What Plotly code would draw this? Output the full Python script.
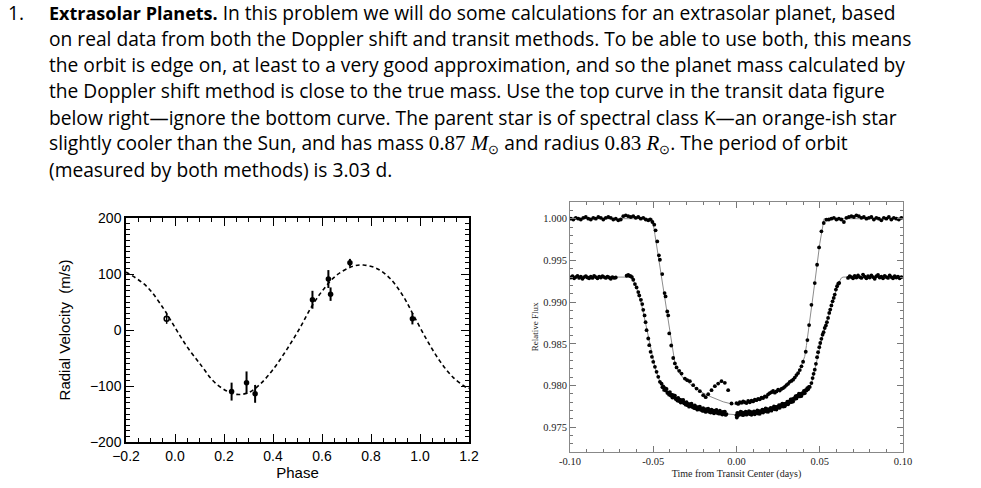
import plotly.graph_objects as go

# ---------------- Radial velocity panel data ----------------
rv_phase = [0.231, 0.292, 0.327, 0.561, 0.626, 0.635, 0.714, 0.969]
rv_vel = [-110, -94, -114, 54, 91, 64, 120, 20]
rv_err = [16, 20, 16, 16, 16, 12, 7, 10]

rv_open_phase = [-0.034]
rv_open_vel = [20]
rv_open_err = [9]

fit_phase = [-0.200, -0.190, -0.116, -0.048, -0.007, 0.048, 0.109, 0.156, 0.211, 0.252,
             0.299, 0.347, 0.401, 0.456, 0.510, 0.558, 0.605, 0.660, 0.728, 0.769,
             0.823, 0.878, 0.932, 0.973, 1.027, 1.082, 1.136, 1.191, 1.200]
fit_vel = [103, 101, 78, 39, 9.5, -29, -64.5, -91, -109, -115,
           -112, -97, -70, -35, 3.6, 42, 72, 98, 114, 116,
           110, 92, 60, 27, -17, -56, -85, -103, -104]

rv_xticks = [-0.2, 0.0, 0.2, 0.4, 0.6, 0.8, 1.0, 1.2]
rv_yticks = [-200, -100, 0, 100, 200]

# ---------------- Transit panel data ----------------
top_t = [
    -0.0995, -0.0980, -0.0965, -0.0950, -0.0935, -0.0920, -0.0905, -0.0890, -0.0875, -0.0860,
    -0.0845, -0.0830, -0.0815, -0.0800, -0.0785, -0.0770, -0.0755, -0.0740, -0.0725, -0.0710,
    -0.0695, -0.0680, -0.0665, -0.0650, -0.0635, -0.0620, -0.0605, -0.0590, -0.0575, -0.0560,
    -0.0545, -0.0530, -0.0518,
    -0.0505, -0.0494, -0.0486, -0.0476, -0.0466, -0.0460, -0.0446, -0.0432, -0.0426, -0.0416,
    -0.0410, -0.0404, -0.0392, -0.0380, -0.0370, -0.0360, -0.0344, -0.0330, -0.0310, -0.0296,
    -0.0280, -0.0260, -0.0240, -0.0220, -0.0200,
    -0.0185, -0.0170, -0.0150, -0.0130, -0.0110, -0.0090, -0.0070, -0.0050,
    -0.0030,
    0.000, 0.001, 0.002, 0.003, 0.004, 0.005, 0.006, 0.007, 0.008, 0.009,
    0.010, 0.011, 0.012, 0.013, 0.014, 0.015, 0.016, 0.017, 0.018, 0.019,
    0.020, 0.021, 0.022, 0.023, 0.024, 0.025, 0.026, 0.027, 0.028, 0.029,
    0.030, 0.031, 0.032, 0.033, 0.034, 0.035, 0.036, 0.037, 0.038, 0.039,
    0.040,
    0.0416, 0.0426, 0.0436, 0.0450, 0.0470, 0.0484, 0.0496, 0.0510, 0.0524, 0.0540,
    0.0555, 0.0570, 0.0585, 0.0600, 0.0615, 0.0630, 0.0645, 0.0660, 0.0675, 0.0690,
    0.0705, 0.0720, 0.0735, 0.0750, 0.0765, 0.0780, 0.0795, 0.0810, 0.0825, 0.0840,
    0.0855, 0.0870, 0.0885, 0.0900, 0.0915, 0.0930, 0.0945, 0.0960, 0.0975, 0.0990,
]
top_f = [
    1.0000, 0.9999, 1.0001, 1.0000, 0.9999, 1.0001, 1.0002, 1.0000, 0.9999, 1.0001,
    1.0000, 1.0002, 1.0001, 0.9999, 1.0001, 1.0002, 1.0001, 0.9999, 1.0000, 0.9998,
    0.9999, 1.0003, 1.0004, 1.0003, 1.0002, 1.0003, 1.0001, 1.0002, 1.0000, 1.0001,
    0.9999, 0.9998, 0.9999,
    0.99960, 0.99928, 0.99861, 0.99728, 0.99561, 0.99508, 0.99336, 0.99108, 0.99068, 0.98888,
    0.98840, 0.98625, 0.98480, 0.98330, 0.98265, 0.98217, 0.98176, 0.98144, 0.98084, 0.98064,
    0.98052, 0.98004, 0.97964, 0.97932, 0.97884,
    0.97860, 0.97896, 0.97944, 0.97992, 0.98024, 0.98052, 0.98032, 0.97944,
    0.97785,
    0.97790, 0.97780, 0.97800, 0.97795, 0.97810, 0.97800, 0.97790, 0.97815, 0.97800, 0.97820,
    0.97810, 0.97830, 0.97825, 0.97840, 0.97835, 0.97855, 0.97850, 0.97870, 0.97865, 0.97895,
    0.97910, 0.97920, 0.97935, 0.97915, 0.97930, 0.97950, 0.97940, 0.97960, 0.97970, 0.97985,
    0.98005, 0.98020, 0.98045, 0.98055, 0.98070, 0.98095, 0.98125, 0.98150, 0.98185, 0.98230,
    0.98285,
    0.98405, 0.98545, 0.98725, 0.98968, 0.99228, 0.99448, 0.99656, 0.99849, 0.99948, 0.99988,
    0.9999, 1.0000, 1.0001, 0.9999, 1.0000, 0.9999, 0.9996, 1.0001, 1.0002, 1.0003,
    1.0002, 1.0004, 1.0003, 1.0001, 1.0002, 1.0000, 1.0001, 1.0002, 0.9999, 1.0001,
    1.0000, 0.9998, 1.0001, 1.0000, 1.0002, 0.9999, 1.0001, 1.0000, 0.9999, 1.0001,
]

bot_t = [
    -0.0995, -0.0985, -0.0975, -0.0965, -0.0955, -0.0945, -0.0935, -0.0925, -0.0915, -0.0905,
    -0.0895, -0.0885, -0.0875, -0.0865, -0.0855, -0.0845, -0.0835, -0.0825, -0.0815, -0.0805,
    -0.0795, -0.0785, -0.0775, -0.0765, -0.0755, -0.0745, -0.0735, -0.0725,
    -0.0660, -0.0650, -0.0643, -0.0635, -0.0628,
    -0.0620, -0.0610, -0.0600, -0.0590, -0.0584, -0.0574, -0.0566, -0.0560, -0.0552, -0.0546,
    -0.0540, -0.0530, -0.0524, -0.0516, -0.0508, -0.0500, -0.0490, -0.0480, -0.0470, -0.0460,
    -0.0450, -0.0445, -0.0440, -0.0435, -0.0430, -0.0425, -0.0420, -0.0415, -0.0410, -0.0405,
    -0.0400, -0.0395, -0.0390, -0.0385, -0.0380, -0.0375, -0.0370, -0.0365, -0.0360, -0.0355,
    -0.0350, -0.0345, -0.0340, -0.0335, -0.0330, -0.0325, -0.0320, -0.0315, -0.0310, -0.0305,
    -0.0300, -0.0295, -0.0290, -0.0285, -0.0280, -0.0275, -0.0270, -0.0265, -0.0260, -0.0255,
    -0.0250, -0.0245, -0.0240, -0.0235, -0.0230, -0.0225, -0.0220, -0.0215, -0.0210, -0.0205,
    -0.0200, -0.0195, -0.0190, -0.0185, -0.0180, -0.0175, -0.0170, -0.0165, -0.0160, -0.0155,
    -0.0150, -0.0145, -0.0140, -0.0135, -0.0130, -0.0125, -0.0120, -0.0115, -0.0110, -0.0105,
    -0.0100, -0.0095, -0.0090, -0.0085, -0.0080, -0.0075, -0.0070, -0.0065, -0.0060,
    0.0002,
    0.0000, 0.0005, 0.0010, 0.0015, 0.0020, 0.0025, 0.0030, 0.0035, 0.0040, 0.0045,
    0.0050, 0.0055, 0.0060, 0.0065, 0.0070, 0.0075, 0.0080, 0.0085, 0.0090, 0.0095,
    0.0100, 0.0105, 0.0110, 0.0115, 0.0120, 0.0125, 0.0130, 0.0135, 0.0140, 0.0145,
    0.0150, 0.0155, 0.0160, 0.0165, 0.0170, 0.0175, 0.0180, 0.0185, 0.0190, 0.0195,
    0.0200, 0.0205, 0.0210, 0.0215, 0.0220, 0.0225, 0.0230, 0.0235, 0.0240, 0.0245,
    0.0250, 0.0255, 0.0260, 0.0265, 0.0270, 0.0275, 0.0280, 0.0285, 0.0290, 0.0295,
    0.0300, 0.0305, 0.0310, 0.0315, 0.0320, 0.0325, 0.0330, 0.0335, 0.0340, 0.0345,
    0.0350, 0.0355, 0.0360, 0.0365, 0.0370, 0.0375, 0.0380, 0.0385, 0.0390, 0.0395,
    0.0400, 0.0405, 0.0410, 0.0415, 0.0420, 0.0425, 0.0430, 0.0435, 0.0440,
    0.0450, 0.0457, 0.0463, 0.0470, 0.0477, 0.0484, 0.0490, 0.0497, 0.0503, 0.0510,
    0.0517, 0.0523, 0.0530, 0.0537, 0.0543, 0.0550, 0.0557, 0.0563, 0.0570, 0.0577,
    0.0584, 0.0590, 0.0597, 0.0604, 0.0611, 0.0617,
    0.0670, 0.0680, 0.0690, 0.0700, 0.0710, 0.0720, 0.0730, 0.0740, 0.0750, 0.0760,
    0.0770, 0.0780, 0.0790, 0.0800, 0.0810, 0.0820, 0.0830, 0.0840, 0.0850, 0.0860,
    0.0870, 0.0880, 0.0890, 0.0900, 0.0910, 0.0920, 0.0930, 0.0940, 0.0950, 0.0960,
    0.0970, 0.0980, 0.0990,
]
bot_f = [
    0.99295, 0.99310, 0.99285, 0.99300, 0.99315, 0.99290, 0.99305, 0.99280, 0.99300, 0.99310,
    0.99295, 0.99285, 0.99305, 0.99290, 0.99315, 0.99300, 0.99285, 0.99305, 0.99295, 0.99310,
    0.99300, 0.99290, 0.99305, 0.99295, 0.99280, 0.99300, 0.99290, 0.99295,
    0.99316, 0.99325, 0.99315, 0.99310, 0.99300,
    0.99268, 0.99216, 0.99176, 0.99120, 0.99080, 0.99028, 0.98976, 0.98908, 0.98840, 0.98760,
    0.98664, 0.98564, 0.98484, 0.98404, 0.98344, 0.98284, 0.98224, 0.98164, 0.98104, 0.98044,
    0.98022, 0.97980, 0.97990, 0.97948, 0.97968, 0.97940, 0.97960, 0.97912, 0.97914, 0.97890,
    0.97922, 0.97880, 0.97890, 0.97856, 0.97884, 0.97858, 0.97880, 0.97838, 0.97846, 0.97821,
    0.97852, 0.97815, 0.97830, 0.97797, 0.97826, 0.97803, 0.97828, 0.97787, 0.97796, 0.97771,
    0.97802, 0.97765, 0.97780, 0.97747, 0.97776, 0.97755, 0.97782, 0.97743, 0.97754, 0.97730,
    0.97762, 0.97726, 0.97742, 0.97711, 0.97742, 0.97721, 0.97748, 0.97709, 0.97720, 0.97697,
    0.97730, 0.97696, 0.97714, 0.97684, 0.97716, 0.97696, 0.97724, 0.97686, 0.97698, 0.97677,
    0.97712, 0.97679, 0.97698, 0.97668, 0.97700, 0.97680, 0.97708, 0.97671, 0.97684, 0.97663,
    0.97698, 0.97664, 0.97682, 0.97652, 0.97684, 0.97662, 0.97688, 0.97648, 0.97658,
    0.97617,
    0.97645, 0.97673, 0.97640, 0.97670, 0.97660, 0.97687, 0.97651, 0.97678, 0.97645, 0.97673,
    0.97660, 0.97686, 0.97651, 0.97679, 0.97668, 0.97694, 0.97657, 0.97683, 0.97650, 0.97678,
    0.97665, 0.97691, 0.97656, 0.97685, 0.97674, 0.97701, 0.97665, 0.97693, 0.97661, 0.97692,
    0.97681, 0.97710, 0.97677, 0.97707, 0.97697, 0.97725, 0.97689, 0.97717, 0.97685, 0.97715,
    0.97703, 0.97732, 0.97699, 0.97730, 0.97721, 0.97750, 0.97715, 0.97744, 0.97713, 0.97745,
    0.97735, 0.97765, 0.97733, 0.97764, 0.97755, 0.97784, 0.97749, 0.97780, 0.97751, 0.97784,
    0.97775, 0.97806, 0.97775, 0.97808, 0.97801, 0.97834, 0.97803, 0.97836, 0.97809, 0.97845,
    0.97839, 0.97873, 0.97845, 0.97878, 0.97871, 0.97902, 0.97869, 0.97901, 0.97874, 0.97909,
    0.97902, 0.97936, 0.97908, 0.97944, 0.97940, 0.97968, 0.97955, 0.97985, 0.97984,
    0.98030, 0.98090, 0.98140, 0.98190, 0.98260, 0.98340, 0.98400, 0.98460, 0.98510, 0.98560,
    0.98610, 0.98640, 0.98690, 0.98720, 0.98760, 0.98810, 0.98870, 0.98910, 0.98960, 0.99010,
    0.99050, 0.99090, 0.99150, 0.99190, 0.99220, 0.99230,
    0.99290, 0.99310, 0.99300, 0.99285, 0.99315, 0.99295, 0.99320, 0.99300, 0.99290, 0.99330,
    0.99305, 0.99285, 0.99310, 0.99295, 0.99320, 0.99300, 0.99280, 0.99310, 0.99325, 0.99295,
    0.99305, 0.99285, 0.99315, 0.99300, 0.99290, 0.99320, 0.99300, 0.99285, 0.99310, 0.99295,
    0.99305, 0.99285, 0.99300,
]

top_model_t = [-0.1000, -0.0505, -0.0490, -0.0450, -0.0420, -0.0400, -0.0385, -0.0370, -0.0350,
               -0.0320, -0.0280, -0.0240, -0.0200, -0.0160, -0.0120, -0.0080, -0.0040, 0.0000,
               0.0040, 0.0080, 0.0120, 0.0160, 0.0200, 0.0240, 0.0280, 0.0320, 0.0360, 0.0380,
               0.0400, 0.0410, 0.0420, 0.0436, 0.0470, 0.0500, 0.0526, 0.1000]
top_model_f = [1.00000, 1.00000, 0.99810, 0.99310, 0.98930, 0.98690, 0.98450, 0.98270, 0.98170,
               0.98090, 0.98020, 0.97960, 0.97910, 0.97870, 0.97835, 0.97805, 0.97785, 0.97775,
               0.97780, 0.97795, 0.97820, 0.97850, 0.97890, 0.97935, 0.97985, 0.98045, 0.98125, 0.98185,
               0.98280, 0.98350, 0.98480, 0.98740, 0.99230, 0.99700, 1.00000, 1.00000]

bot_model_t = [-0.100, -0.063, -0.061, -0.059, -0.057, -0.055, -0.053, -0.051, -0.049, -0.047,
               -0.045, -0.043, -0.040, -0.035, -0.030, -0.025, -0.020, -0.015, -0.010, -0.005,
               0.000, 0.005, 0.010, 0.015, 0.020, 0.025, 0.030, 0.035, 0.040, 0.043,
               0.045, 0.047, 0.049, 0.051, 0.053, 0.055, 0.057, 0.059, 0.061, 0.063,
               0.064, 0.100]
bot_model_f = [0.9930, 0.9930, 0.9922, 0.9911, 0.9897, 0.9878, 0.9857, 0.9838, 0.9822, 0.9810,
               0.9800, 0.9795, 0.9789, 0.97834, 0.97780, 0.97740, 0.97708, 0.97685, 0.97665, 0.97655,
               0.97650, 0.97655, 0.97665, 0.97685, 0.97708, 0.97740, 0.97780, 0.97834, 0.97900, 0.97960,
               0.98020, 0.98180, 0.98360, 0.98540, 0.98680, 0.98820, 0.98970, 0.99110, 0.99220, 0.99290,
               0.99300, 0.99300]

tr_xticks = [-0.10, -0.05, 0.00, 0.05, 0.10]
tr_xticktext = ["-0.10", "-0.05", "0.00", "0.05", "0.10"]
tr_yticks = [0.975, 0.980, 0.985, 0.990, 0.995, 1.000]
tr_yticktext = ["0.975", "0.980", "0.985", "0.990", "0.995", "1.000"]

assert len(top_t) == len(top_f), (len(top_t), len(top_f))
assert len(bot_t) == len(bot_f), (len(bot_t), len(bot_f))
assert len(fit_phase) == len(fit_vel)

# ---------------- Text ----------------
serif = "font-family:Liberation Serif;font-size:21px"
text_lines = [
    "<span style=\"font-size:18px\"><b>Extrasolar Planets.</b></span> In this problem we will do some calculations for an extrasolar planet, based",
    "on real data from both the Doppler shift and transit methods. To be able to use both, this means",
    "the orbit is edge on, at least to a very good approximation, and so the planet mass calculated by",
    "the Doppler shift method is close to the true mass. Use the top curve in the transit data figure",
    "below right\u2014ignore the bottom curve. The parent star is of spectral class K\u2014an orange-ish star",
    "slightly cooler than the Sun, and has mass <span style=\"" + serif + "\">0.87 <i>M</i></span><sub>\u2299</sub> and radius "
    "<span style=\"" + serif + "\">0.83 <i>R</i></span><sub>\u2299</sub>. The period of orbit",
    "(measured by both methods) is 3.03 d.",
]
line_y = [12, 38, 64, 90, 117, 143, 169]
TEXT_SIZE = 19.2

W, H = 981, 488
fig = go.Figure()

# RV panel
fig.add_trace(go.Scatter(x=fit_phase, y=fit_vel, mode="lines",
                         line=dict(color="black", width=1.6, dash="4px,3px", shape="spline"),
                         xaxis="x", yaxis="y", hoverinfo="skip"))
fig.add_trace(go.Scatter(x=rv_phase, y=rv_vel, mode="markers",
                         marker=dict(color="black", size=5.5),
                         error_y=dict(type="data", array=rv_err, thickness=2, width=0, color="black"),
                         xaxis="x", yaxis="y"))
fig.add_trace(go.Scatter(x=rv_open_phase, y=rv_open_vel, mode="markers",
                         marker=dict(color="black", size=5, symbol="circle-open", line=dict(width=1.5, color="black")),
                         error_y=dict(type="data", array=rv_open_err, thickness=1.5, width=0, color="black"),
                         xaxis="x", yaxis="y"))

# Transit panel
fig.add_trace(go.Scatter(x=top_model_t, y=top_model_f, mode="lines",
                         line=dict(color="#8c8c8c", width=1), xaxis="x2", yaxis="y2", hoverinfo="skip"))
fig.add_trace(go.Scatter(x=bot_model_t, y=bot_model_f, mode="lines",
                         line=dict(color="#8c8c8c", width=1), xaxis="x2", yaxis="y2", hoverinfo="skip"))
fig.add_trace(go.Scatter(x=top_t, y=top_f, mode="markers",
                         marker=dict(color="black", size=3.8), xaxis="x2", yaxis="y2"))
fig.add_trace(go.Scatter(x=bot_t, y=bot_f, mode="markers",
                         marker=dict(color="black", size=3.8), xaxis="x2", yaxis="y2"))

sans = "Liberation Sans, Arial, sans-serif"
times = "Liberation Serif, Times New Roman, serif"

ann = [dict(x=6 / W, y=1 - line_y[0] / H, xref="paper", yref="paper", xanchor="left", yanchor="middle",
            text="1.", showarrow=False, font=dict(family="Open Sans", size=TEXT_SIZE, color="black"))]
for t, yy in zip(text_lines, line_y):
    ann.append(dict(x=47 / W, y=1 - yy / H, xref="paper", yref="paper", xanchor="left", yanchor="middle",
                    text=t, showarrow=False, font=dict(family="Open Sans", size=TEXT_SIZE, color="black")))

fig.update_layout(
    width=W, height=H, autosize=False,
    margin=dict(l=0, r=0, t=0, b=0, autoexpand=False),
    paper_bgcolor="white", plot_bgcolor="white",
    showlegend=False,
    annotations=ann,
    xaxis=dict(domain=[126 / W, 469 / W], range=[-0.2, 1.2], anchor="y", automargin=False,
               tickvals=rv_xticks, tickformat=".1f",
               ticks="inside", ticklen=8, tickwidth=1, tickcolor="black",
               minor=dict(dtick=0.05, tick0=0, ticks="inside", ticklen=4, tickcolor="black", tickwidth=1),
               showline=True, linecolor="black", linewidth=1.5, mirror="allticks",
               showgrid=False, zeroline=False,
               tickfont=dict(family=sans, size=14, color="black"),
               title=dict(text="Phase", font=dict(family=sans, size=15, color="black"), standoff=3)),
    yaxis=dict(domain=[(H - 442) / H, (H - 218) / H], range=[-200, 200], anchor="x", automargin=False,
               tickvals=rv_yticks,
               ticks="inside", ticklen=8, tickwidth=1, tickcolor="black",
               minor=dict(dtick=10, tick0=0, ticks="inside", ticklen=4, tickcolor="black", tickwidth=1),
               showline=True, linecolor="black", linewidth=1.5, mirror="allticks",
               showgrid=False, zeroline=False,
               tickfont=dict(family=sans, size=14, color="black"),
               title=dict(text="Radial Velocity  (m/s)", font=dict(family=sans, size=15, color="black"), standoff=16)),
    xaxis2=dict(domain=[570 / W, 903 / W], range=[-0.10, 0.10], anchor="y2", automargin=False,
                tickvals=tr_xticks, ticktext=tr_xticktext,
                ticks="inside", ticklen=6, tickwidth=1, tickcolor="#777777",
                minor=dict(dtick=0.01, tick0=0, ticks="inside", ticklen=3, tickcolor="#777777", tickwidth=1),
                showline=True, linecolor="#888888", linewidth=1, mirror="allticks",
                showgrid=False, zeroline=False,
                tickfont=dict(family=times, size=10.5, color="#222222"),
                title=dict(text="Time from Transit Center (days)", font=dict(family=times, size=10, color="#222222"), standoff=3)),
    yaxis2=dict(domain=[(H - 451.7) / H, (H - 202) / H], range=[0.97207, 1.0020], anchor="x2", automargin=False,
                tickvals=tr_yticks, ticktext=tr_yticktext,
                ticks="inside", ticklen=6, tickwidth=1, tickcolor="#777777",
                minor=dict(dtick=0.001, tick0=0.975, ticks="inside", ticklen=3, tickcolor="#777777", tickwidth=1),
                showline=True, linecolor="#888888", linewidth=1, mirror="allticks",
                showgrid=False, zeroline=False,
                tickfont=dict(family=times, size=10.5, color="#222222"),
                title=dict(text="Relative Flux", font=dict(family=times, size=9, color="#222222"), standoff=3)),
)

fig.write_html("out.html", config={"displayModeBar": False},
               post_script="document.body.style.margin='0px';")
